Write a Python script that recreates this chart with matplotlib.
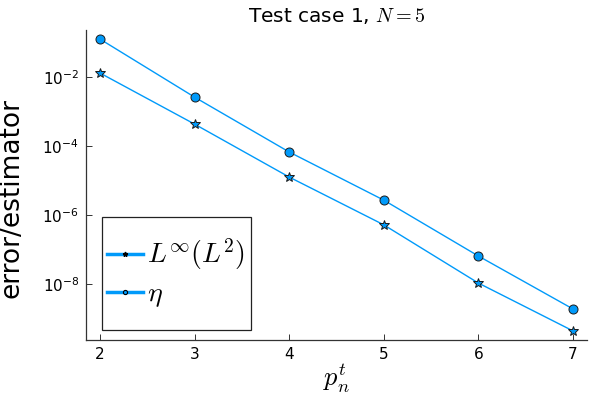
import matplotlib
matplotlib.use("Agg")
import matplotlib.pyplot as plt
from matplotlib.lines import Line2D
from matplotlib.patches import Rectangle

plt.rcParams['mathtext.fontset'] = 'cm'
plt.rcParams['font.family'] = ['DejaVu Sans']

p_values = [2, 3, 4, 5, 6, 7]
err_linf_l2 = [1.3e-2, 4.3e-4, 1.26e-5, 5.2e-7, 1.07e-8, 4.4e-10]
eta = [1.25e-1, 2.6e-3, 6.7e-5, 2.7e-6, 6.5e-8, 1.9e-9]
xtick_labels = ["2", "3", "4", "5", "6", "7"]

color = "#009AFA"

fig = plt.figure(figsize=(6, 4), dpi=100)
ax = fig.add_axes([0.1433, 0.15, 0.835, 0.775])

ax.plot(p_values, err_linf_l2, color=color, lw=1, marker='*', markersize=7,
        markerfacecolor=color, markeredgecolor='#1a1a1a', markeredgewidth=0.7)
ax.plot(p_values, eta, color=color, lw=1, marker='o', markersize=6.5,
        markerfacecolor=color, markeredgecolor='#1a1a1a', markeredgewidth=0.7)

ax.set_yscale('log')
ax.set_xlim(1.852, 7.148)
ax.set_ylim(10**-9.62, 10**-0.64)
ax.set_xticks(p_values)
ax.set_xticklabels(xtick_labels)
ax.set_yticks([1e-8, 1e-6, 1e-4, 1e-2])
ax.yaxis.set_minor_locator(matplotlib.ticker.NullLocator())

for s in ['top', 'right']:
    ax.spines[s].set_visible(False)
for s in ['left', 'bottom']:
    ax.spines[s].set_color('#333333')
    ax.spines[s].set_linewidth(0.9)
ax.tick_params(direction='in', length=4, width=0.7, labelsize=11, color='#333333', pad=5)

ax.set_title(r"Test case 1, $N=5$", fontsize=14.5, pad=6)
ax.set_ylabel("error/estimator", fontsize=19)
ax.yaxis.set_label_coords(-0.122, 0.458)
ax.set_xlabel(r"$p_n^t$", fontsize=19, labelpad=0)

handles = [
    Line2D([], [], color=color, lw=2.5, marker='*', markersize=3.5,
           markerfacecolor='k', markeredgecolor='k'),
    Line2D([], [], color=color, lw=2.5, marker='o', markersize=3,
           markerfacecolor=color, markeredgecolor='k', markeredgewidth=0.8),
]
leg = ax.legend(handles, [r"$L^\infty(L^2)$", r"$\eta$"], loc='center left',
                bbox_to_anchor=(0.042, 0.216), borderaxespad=0, borderpad=0, fontsize=20,
                frameon=False, handlelength=1.3, handletextpad=0.15,
                labelspacing=0.25)
ax.add_patch(Rectangle((0.032, 0.032), 0.297, 0.365, transform=ax.transAxes,
                       fill=True, facecolor='white', edgecolor='#222222', lw=0.9, zorder=4))
leg.set_zorder(5)

fig.savefig("out.png", dpi=100)
